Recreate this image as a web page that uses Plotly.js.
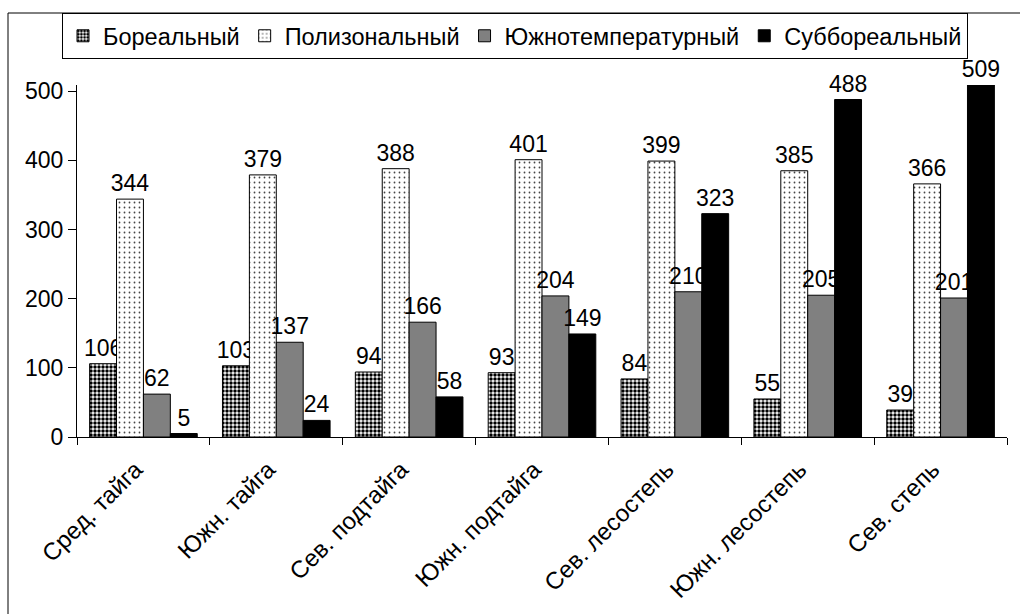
<!DOCTYPE html>
<html>
<head>
<meta charset="utf-8">
<script src="https://cdn.plot.ly/plotly-3.0.1.min.js"></script>
<style>html,body{margin:0;padding:0;background:#fff;}#chart{width:1020px;height:614px;}</style>
</head>
<body>
<div id="chart"></div>
<script>
const categories = ["Сред. тайга", "Южн. тайга", "Сев. подтайга", "Южн. подтайга", "Сев. лесостепь", "Южн. лесостепь", "Сев. степь"];
const seriesNames = ["Бореальный", "Полизональный", "Южнотемпературный", "Суббореальный"];
const boreal = [106, 103, 94, 93, 84, 55, 39];
const polizonal = [344, 379, 388, 401, 399, 385, 366];
const southTemperate = [62, 137, 166, 204, 210, 205, 201];
const subboreal = [5, 24, 58, 149, 323, 488, 509];
const yTicks = [0, 100, 200, 300, 400, 500];

const FONT = "Liberation Sans, Arial, sans-serif";
const lineStyle = {color: "#000", width: 1};
function mk(name, vals, marker) {
  return {
    type: "bar", name: name, x: categories, y: vals,
    text: vals.map(String), textposition: "outside",
    constraintext: "none",
    textfont: {family: FONT, size: 23, color: "#000"},
    cliponaxis: false,
    marker: Object.assign({line: lineStyle}, marker),
    hoverinfo: "skip"
  };
}
const data = [
  mk(seriesNames[0], boreal, {color: "#fff", pattern: {shape: ".", fgcolor: "#000", bgcolor: "#fff", size: 4, solidity: 0.6}}),
  mk(seriesNames[1], polizonal, {color: "#fff", pattern: {shape: ".", fgcolor: "#444", bgcolor: "#fff", size: 5, solidity: 0.1}}),
  mk(seriesNames[2], southTemperate, {color: "#808080"}),
  mk(seriesNames[3], subboreal, {color: "#000"})
];

const L = 77, R = 13, T = 85, B = 177, W = 1020, H = 614;
const pw = W - L - R, ph = H - T - B;
const px = x => (x - L) / pw;
const py = y => (H - B - y) / ph;

const layout = {
  width: W, height: H,
  margin: {l: L, r: R, t: T, b: B, pad: 0},
  paper_bgcolor: "#fff", plot_bgcolor: "#fff",
  font: {family: FONT, color: "#000", size: 22},
  barmode: "group", bargap: 0.19, bargroupgap: 0,
  xaxis: {
    type: "category", showline: true, linecolor: "#000", linewidth: 1,
    ticks: "outside", tickson: "boundaries", ticklen: 7, tickcolor: "#000",
    tickangle: -45, tickfont: {family: FONT, size: 24, color: "#000"},
    ticklabelstandoff: 8, ticklabelshift: -8,
    showgrid: false, zeroline: false, fixedrange: true
  },
  yaxis: {
    range: [0, 509], tickvals: yTicks, ticktext: yTicks.map(String),
    showline: true, linecolor: "#000", linewidth: 1,
    ticks: "outside", ticklen: 8, tickcolor: "#000",
    tickfont: {family: FONT, size: 23, color: "#000"},
    showgrid: false, zeroline: false, fixedrange: true
  },
  showlegend: true,
  legend: {
    orientation: "h", x: px(62), xanchor: "left", y: py(13), yanchor: "top",
    bordercolor: "#000", borderwidth: 1, bgcolor: "#fff",
    font: {family: FONT, size: 23.5, color: "#000"},
    traceorder: "normal", itemclick: false, itemdoubleclick: false
  },
  shapes: [
    {type: "line", xref: "paper", yref: "paper", x0: px(8), x1: px(8), y0: py(13), y1: py(640), line: {color: "#000", width: 1}},
    {type: "line", xref: "paper", yref: "paper", x0: px(8), x1: px(1040), y0: py(13), y1: py(13), line: {color: "#000", width: 1}}
  ]
};
Plotly.newPlot("chart", data, layout, {displayModeBar: false, staticPlot: true});
</script>
</body>
</html>
